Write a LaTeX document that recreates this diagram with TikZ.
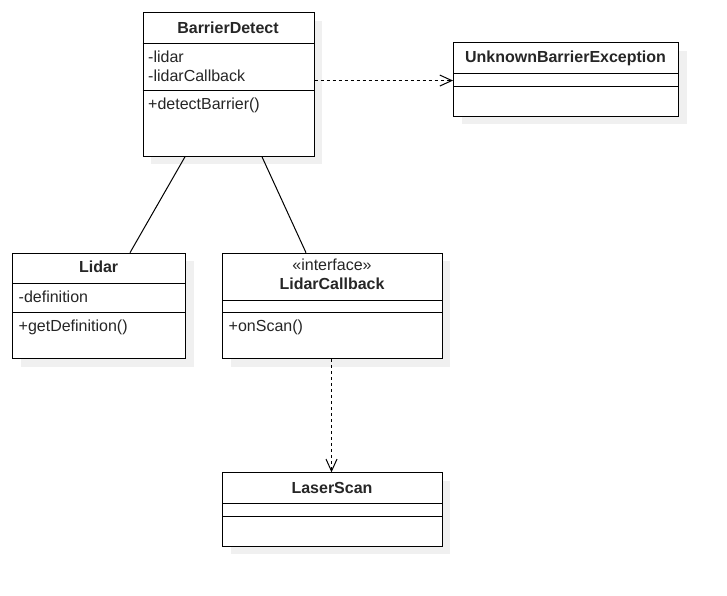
\documentclass[tikz,border=0pt]{standalone}
\usepackage{fontspec}
\setmainfont{Liberation Sans}
\usetikzlibrary{shadows,arrows.meta}
\begin{document}
\begin{tikzpicture}[x=1pt,y=-1pt,
  cls/.style={draw=black, line width=1pt, fill=white, anchor=north west, inner sep=0pt,
    drop shadow={shadow xshift=8pt, shadow yshift=-8pt, fill=black!6, opacity=1}},
  ttl/.style={font=\fontsize{16}{19}\selectfont\bfseries, anchor=base, inner sep=0pt, text=black!85},
  txt/.style={font=\fontsize{16}{19}\selectfont, anchor=base west, inner sep=0pt, text=black!85},
  stereo/.style={font=\fontsize{16}{19}\selectfont, anchor=base, inner sep=0pt, text=black!85},
  sep/.style={line width=1pt},
  dep/.style={line width=1pt, dash pattern=on 3pt off 3pt, -{Straight Barb[length=12pt,width=11pt,line width=1pt]}},
  assoc/.style={line width=1pt}]
\useasboundingbox (0,0) rectangle (727,596);

% BarrierDetect
\node[cls, minimum width=171pt, minimum height=143.5pt] (bd) at (142.5,12.3) {};
\draw[sep] (142.5,43.3) -- (313.5,43.3);
\draw[sep] (142.5,90.3) -- (313.5,90.3);
\node[ttl] (bdn) at (228,33.4) {BarrierDetect};
\node[txt] (bda1) at (148,62.2) {-lidar};
\node[txt] (bda2) at (148,81.2) {-lidarCallback};
\node[txt] (bdm1) at (148,109.8) {+detectBarrier()};

% UnknownBarrierException
\node[cls, minimum width=225pt, minimum height=73.7pt] (ube) at (453,42.3) {};
\draw[sep] (453,74) -- (678,74);
\draw[sep] (453,86.3) -- (678,86.3);
\node[ttl] (uben) at (565.5,63) {UnknownBarrierException};

% Lidar
\node[cls, minimum width=172.7pt, minimum height=105.6pt] (li) at (12.3,252.7) {};
\draw[sep] (12.3,283.3) -- (185,283.3);
\draw[sep] (12.3,312.3) -- (185,312.3);
\node[ttl] (lin) at (98.6,272.9) {Lidar};
\node[txt] (lia1) at (18.5,302.4) {-definition};
\node[txt] (lim1) at (18.5,331.4) {+getDefinition()};

% LidarCallback
\node[cls, minimum width=219.4pt, minimum height=105.6pt] (lc) at (222.3,252.7) {};
\draw[sep] (222.3,300) -- (441.7,300);
\draw[sep] (222.3,312.3) -- (441.7,312.3);
\node[stereo] (lcs) at (332,270.4) {«interface»};
\node[ttl] (lcn) at (332,289) {LidarCallback};
\node[txt] (lcm1) at (228.5,331.4) {+onScan()};

% LaserScan
\node[cls, minimum width=219.4pt, minimum height=73.4pt] (ls) at (222.3,472.3) {};
\draw[sep] (222.3,503.7) -- (441.7,503.7);
\draw[sep] (222.3,516) -- (441.7,516);
\node[ttl] (lsn) at (332,493) {LaserScan};

% connectors
\draw[dep] ([yshift=4pt]bd.east) -- ([yshift=4pt]bd.east -| ube.west);
\draw[assoc] ([xshift=42.5pt]bd.south west) -- ([xshift=117.7pt]li.north west);
\draw[assoc] ([xshift=119.5pt]bd.south west) -- ([xshift=83.7pt]lc.north west);
\draw[dep] ([xshift=-1pt]lc.south) -- ([xshift=-1pt]ls.north);
\end{tikzpicture}
\end{document}
